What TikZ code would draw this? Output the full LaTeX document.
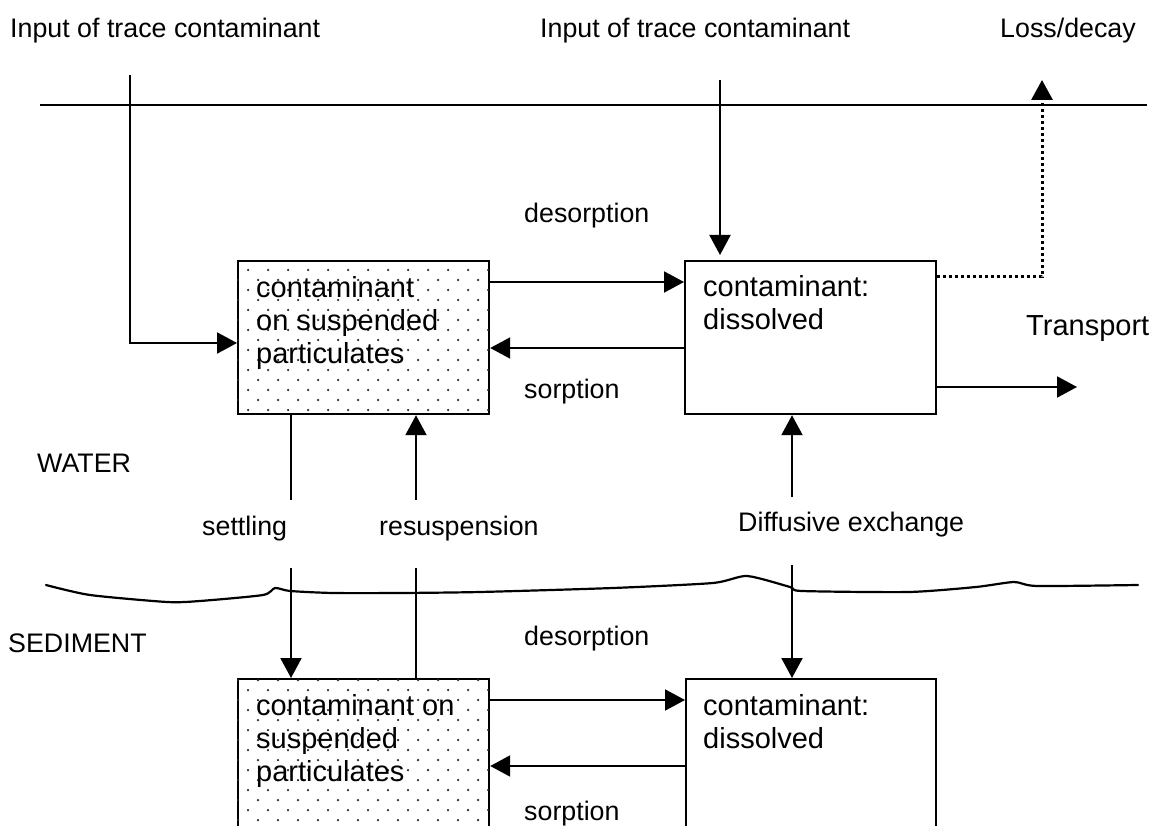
\documentclass[tikz,border=0pt]{standalone}
\usepackage{fontspec}
\setmainfont{Liberation Sans}
\usetikzlibrary{arrows.meta,calc}
\begin{document}
\begin{tikzpicture}[x=1pt,y=-1pt,
  lbl/.style={inner sep=0pt, anchor=base west, font=\fontsize{26.8}{30}\selectfont},
  big/.style={inner sep=0pt, anchor=base west, align=left, font=\fontsize{29}{33}\selectfont},
  box/.style={draw, line width=2.2pt, anchor=north west, inner sep=0pt, minimum width=251pt},
  arr/.style={line width=2pt, -{Triangle[length=20pt,width=21pt]}},
  ln/.style={line width=2pt},
  dotline/.style={line width=3pt, dash pattern=on 3pt off 3pt, -{Triangle[length=20pt,width=21pt]}},
  dotc/.style={fill=black!85}]
\useasboundingbox (0,0) rectangle (1154,826);
\clip (0,0) rectangle (1154,826);

% boxes
\node[box, minimum height=153pt] (b1) at (237,260) {};
\node[box, minimum height=153pt, minimum width=251pt] (b2) at (684,260) {};
\node[box, minimum height=200pt] (b3) at (237,678) {};
\node[box, minimum height=200pt, minimum width=250pt] (b4) at (685,678) {};

% dotted fill
\begin{scope}
\clip (b1.north west) rectangle (b1.south east);
\foreach \r in {0,...,15}{\foreach \c in {0,...,12}{
  \fill[dotc] ({238+20*\c+10*mod(\r+1,2)},{270+10*\r}) circle (1.25pt);}}
\end{scope}
\begin{scope}
\clip (b3.north west) rectangle (b3.south east);
\foreach \r in {0,...,15}{\foreach \c in {0,...,12}{
  \fill[dotc] ({238+20*\c+10*mod(\r,2)},{680+10*\r}) circle (1.25pt);}}
\end{scope}

% box texts (base = baseline of last line)
\node[big] (t1) at (256,363) {contaminant\\on suspended\\particulates};
\node[big] (t2) at (703,330) {contaminant:\\dissolved};
\node[big] (t3) at (256,781) {contaminant on\\suspended\\particulates};
\node[big] (t4) at (703,748) {contaminant:\\dissolved};

% surface line
\draw[ln] (40,105) -- (1147,105);

% sediment-water interface
\draw[line width=2.2pt, line join=round, line cap=round] plot[smooth, tension=0.4] coordinates {
 (46,585) (90,595) (167,602) (200,601) (263,595) (275,588) (290,591) (333,593)
 (400,593) (480,592) (613,588) (713,583) (747,576) (790,587) (802,591) (909,592)
 (976,587) (1014,582) (1037,586) (1138,585)};

% labels
\node[lbl] (lin1) at (10,38) {Input of trace contaminant};
\node[lbl] (lin2) at (540,38) {Input of trace contaminant};
\node[lbl] (lloss) at (1000,38) {Loss/decay};
\node[lbl] (ldes1) at (524,223) {desorption};
\node[lbl] (lsor1) at (524,398) {sorption};
\node[big] (ltr) at (1026,335) {Transport};
\node[lbl] (lwat) at (37,472) {WATER};
\node[lbl] (lset) at (202,535) {settling};
\node[lbl] (lres) at (379,535) {resuspension};
\node[lbl] (ldif) at (738,531) {Diffusive exchange};
\node[lbl] (ldes2) at (524,645) {desorption};
\node[lbl] (lsed) at (8,652) {SEDIMENT};
\node[lbl] (lsor2) at (524,820) {sorption};

% inputs
\coordinate (in1) at (130,75);
\coordinate (j1) at (130,343);
\draw[arr] (in1) -- (j1) -- (j1 -| b1.west);
\coordinate (in2) at (720,80);
\draw[arr, shorten >=5pt] (in2) -- (in2 |- b2.north);

% exchange arrows water
\draw[arr] ($(b1.north east)+(0,22)$) -- ($(b2.north west)+(0,22)$);
\draw[arr] ($(b2.north west)+(0,88)$) -- ($(b1.north east)+(0,88)$);
% exchange arrows sediment
\draw[arr] ($(b3.north east)+(0,22)$) -- ($(b4.north west)+(0,22)$);
\draw[arr] ($(b4.north west)+(0,88)$) -- ($(b3.north east)+(0,88)$);

% transport and loss
\coordinate (tr) at (1077,387);
\draw[arr] ($(b2.north east)+(0,127)$) -- (tr);
\coordinate (ld) at (1042,80);
\draw[dotline] ($(b2.north east)+(0,17)$) -| (ld);

% settling
\coordinate (st1) at (291,500);
\coordinate (st2) at (291,568);
\draw[ln] (st1 |- b1.south) -- (st1);
\draw[arr] (st2) -- (st2 |- b3.north);
% resuspension
\coordinate (rs1) at (416,500);
\coordinate (rs2) at (416,568);
\draw[ln] (rs2 |- b3.north) -- (rs2);
\draw[arr] (rs1) -- (rs1 |- b1.south);
% diffusive exchange
\coordinate (df1) at (792,497);
\coordinate (df2) at (792,565);
\draw[arr] (df1) -- (df1 |- b2.south);
\draw[arr] (df2) -- (df2 |- b4.north);
\end{tikzpicture}
\end{document}
